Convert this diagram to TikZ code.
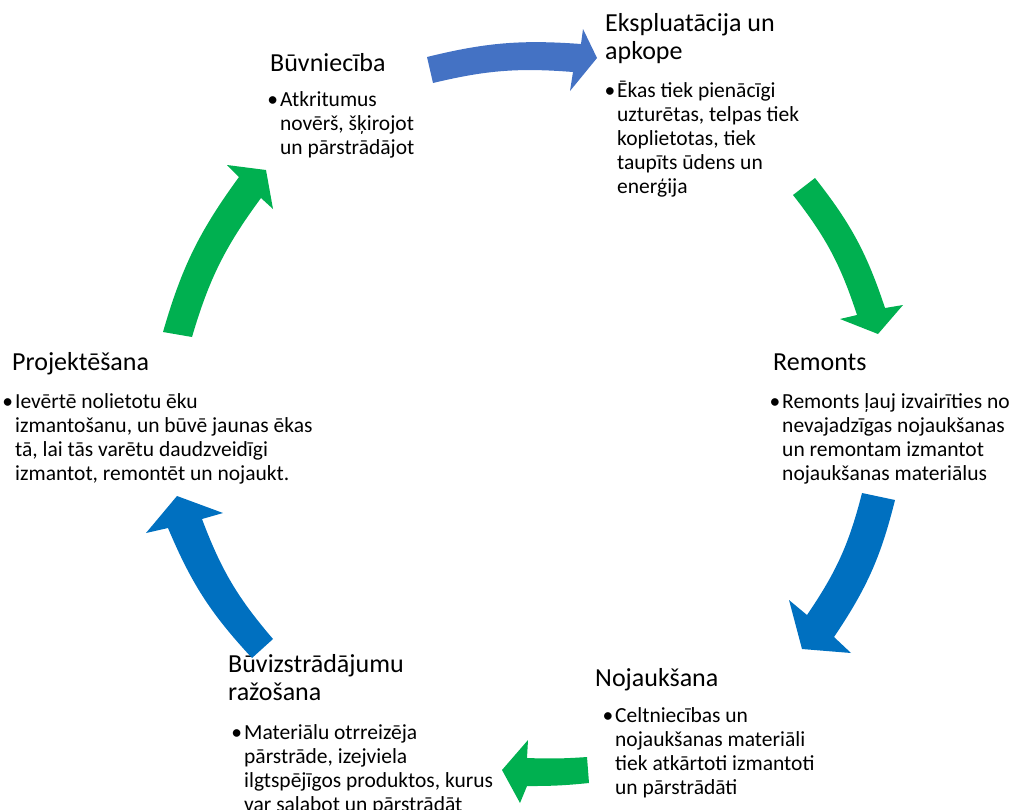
\documentclass[tikz,border=0pt]{standalone}
\usepackage{fontspec}
\setmainfont{Carlito}
\usepackage{tikz}
\definecolor{cycgreen}{HTML}{00B050}
\definecolor{cycblue}{HTML}{0070C0}
\definecolor{cyclight}{HTML}{4472C4}

\begin{document}
\begin{tikzpicture}[scale=0.35146]
                \tikzstyle{every node}+=[inner sep=0pt]
                \tikzstyle{phasetitle}=[anchor=base west, align=left, font=\fontsize{26}{27.5}\selectfont]
                \tikzstyle{phasetext}=[anchor=base west, align=left, font=\fontsize{21.5}{24}\selectfont]
                \tikzstyle{greenarrow}=[fill=cycgreen, draw=none]
                \tikzstyle{bluearrow}=[fill=cycblue, draw=none]
                \clip (0,0) rectangle (101,-80.9);
                \draw (27.0,-7.1) node [phasetitle] (buvt) {Būvniecība};
                \draw (28.0,-15.4) node [phasetext] (buvb) {\llap{•\kern2pt}Atkritumus\\novērš, šķirojot\\un pārstrādājot};
                \draw (60.5,-5.9) node [phasetitle] (ekst) {Ekspluatācija un\\apkope};
                \draw (61.7,-19.3) node [phasetext] (eksb) {\llap{•\kern2pt}Ēkas tiek pienācīgi\\uzturētas, telpas tiek\\koplietotas, tiek\\taupīts ūdens un\\enerģija};
                \draw (77.3,-37.0) node [phasetitle] (remt) {Remonts};
                \draw (78.2,-48.0) node [phasetext] (remb) {\llap{•\kern2pt}Remonts ļauj izvairīties no\\nevajadzīgas nojaukšanas\\un remontam izmantot\\nojaukšanas materiālus};
                \draw (59.5,-68.6) node [phasetitle] (nojt) {Nojaukšana};
                \draw (61.5,-79.4) node [phasetext] (nojb) {\llap{•\kern2pt}Celtniecības un\\nojaukšanas materiāli\\tiek atkārtoti izmantoti\\un pārstrādāti};
                \draw (22.8,-70.0) node [phasetitle] (razt) {Būvizstrādājumu\\ražošana};
                \draw (24.4,-81.1) node [phasetext] (razb) {\llap{•\kern2pt}Materiālu otrreizēja\\pārstrāde, izejviela\\ilgtspējīgos produktos, kurus\\var salabot un pārstrādāt};
                \draw (1.2,-37.0) node [phasetitle] (prot) {Projektēšana};
                \draw (1.5,-48.0) node [phasetext] (prob) {\llap{•\kern2pt}Ievērtē nolietotu ēku\\izmantošanu, un būvē jaunas ēkas\\tā, lai tās varētu daudzveidīgi\\izmantot, remontēt un nojaukt.};
                \fill [cyclight] (42.7,-5.7) to[bend left=9] (58.1,-4.4) -- (58.3,-2.9) -- (59.7,-5.8) -- (57.0,-9.1) -- (57.3,-7.2) to[bend right=9] (43.3,-8.3) -- cycle;
                \fill [greenarrow] (81.5,-17.8) to[bend left=10] (88.5,-30.8) -- (90.3,-30.5) -- (87.8,-33.4) -- (84.0,-31.9) -- (85.7,-31.5) to[bend right=10] (79.3,-19.5) -- cycle;
                \fill [bluearrow] (89.5,-50.0) to[bend left=10] (83.4,-63.7) -- (85.1,-65.3) -- (80.2,-64.9) -- (78.9,-60.0) -- (80.7,-61.5) to[bend right=10] (86.2,-49.3) -- cycle;
                \fill [greenarrow] (58.9,-78.3) to[bend left=3] (52.7,-78.6) -- (52.0,-80.3) -- (50.2,-77.0) -- (52.8,-74.0) -- (52.7,-75.8) to[bend right=3] (58.7,-75.7) -- cycle;
                \fill [bluearrow] (25.2,-65.8) to[bend left=10] (16.8,-52.8) -- (14.6,-53.3) -- (17.7,-49.6) -- (22.3,-51.3) -- (20.2,-51.9) to[bend right=10] (27.3,-63.9) -- cycle;
                \fill [greenarrow] (16.3,-33.2) to[bend left=10] (23.9,-17.7) -- (22.7,-16.5) -- (26.6,-17.0) -- (27.3,-20.9) -- (26.1,-19.8) to[bend right=10] (19.2,-33.7) -- cycle;
            \end{tikzpicture}
\end{document}
